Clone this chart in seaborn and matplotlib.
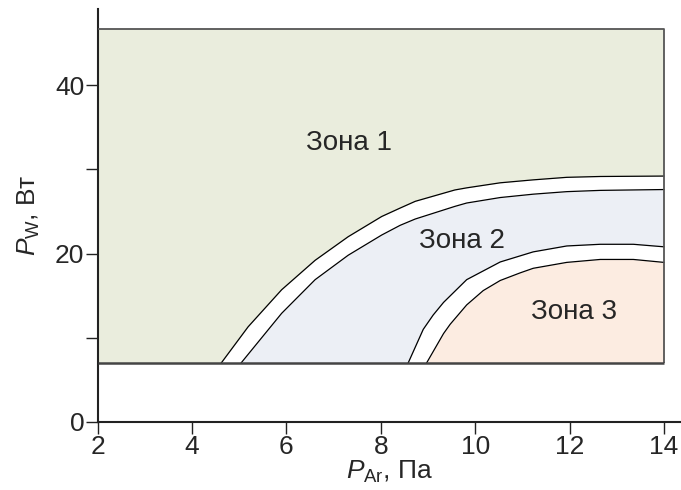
import matplotlib
matplotlib.use("Agg")
import matplotlib.pyplot as plt
import seaborn as sns

# Boundary curves of the operating zones (x: Ar pressure, Pa; y: W power, W)
zone1_edge_x = [4.62, 5.19, 5.90, 6.61, 7.31, 8.02, 8.41, 8.73, 9.57, 9.82,
                10.53, 11.23, 11.94, 12.65, 14.0]
zone1_edge_y = [7.0, 11.3, 15.7, 19.2, 22.0, 24.4, 25.4, 26.2, 27.55, 27.8,
                28.4, 28.75, 29.05, 29.15, 29.2]

zone2_top_x = [5.04, 5.55, 5.90, 6.61, 7.31, 8.02, 8.41, 8.73, 9.57, 9.82,
               10.53, 11.23, 11.94, 12.65, 14.0]
zone2_top_y = [7.0, 10.5, 12.9, 16.9, 19.8, 22.2, 23.35, 24.1, 25.6, 26.0,
               26.65, 27.05, 27.35, 27.5, 27.6]

zone2_bottom_x = [8.58, 8.90, 9.11, 9.33, 9.82, 10.53, 11.23, 11.94, 12.65, 13.35, 14.0]
zone2_bottom_y = [7.0, 11.0, 12.7, 14.2, 16.9, 19.0, 20.2, 20.9, 21.1, 21.1, 20.8]

zone3_top_x = [8.97, 9.33, 9.47, 9.82, 10.17, 10.53, 10.95, 11.23, 11.94, 12.65, 13.35, 14.0]
zone3_top_y = [7.0, 10.5, 11.6, 13.9, 15.6, 16.8, 17.7, 18.25, 18.95, 19.3, 19.3, 18.95]

# Outer frame of the studied region
region_x = [2.0, 14.0]
region_y = [7.0, 46.7]

zone_names = ["Зона 1", "Зона 2", "Зона 3"]
zone_label_x = [7.33, 9.72, 12.10]
zone_label_y = [33.1, 21.5, 13.1]

x_ticks = [2, 4, 6, 8, 10, 12, 14]
y_ticks = [0, 10, 20, 30, 40]
y_tick_labels = ["0", "", "20", "", "40"]

zone_colors = ["#eaeddd", "#eceff5", "#fcece1"]

sns.set_style("ticks")
plt.rcParams["font.family"] = ["Liberation Sans", "DejaVu Sans"]
plt.rcParams["mathtext.fontset"] = "custom"
plt.rcParams["mathtext.rm"] = "Liberation Sans"
plt.rcParams["mathtext.it"] = "Liberation Sans:italic"

fig = plt.figure(figsize=(6.81, 4.90), dpi=100)
ax = fig.add_axes([0.1432, 0.1388, 0.8568, 0.8422])

# Zone 1 background
ax.fill_between(region_x, region_y[0], region_y[1], color=zone_colors[0], lw=0, zorder=1)
# White band, then zone 2, white band, zone 3
ax.fill_between(zone1_edge_x, region_y[0], zone1_edge_y, color="white", lw=0, zorder=2)
ax.fill_between(zone2_top_x, region_y[0], zone2_top_y, color=zone_colors[1], lw=0, zorder=3)
ax.fill_between(zone2_bottom_x, region_y[0], zone2_bottom_y, color="white", lw=0, zorder=4)
ax.fill_between(zone3_top_x, region_y[0], zone3_top_y, color=zone_colors[2], lw=0, zorder=5)

curves = [
    (zone1_edge_x, zone1_edge_y),
    (zone2_top_x, zone2_top_y),
    (zone2_bottom_x, zone2_bottom_y),
    (zone3_top_x, zone3_top_y),
]
for cx, cy in curves:
    sns.lineplot(x=cx, y=cy, ax=ax, color="black", linewidth=0.9,
                 estimator=None, sort=False, zorder=6)

# Frame of the region
ax.plot([region_x[0], region_x[1], region_x[1]],
        [region_y[1], region_y[1], region_y[0]],
        color="#555555", linewidth=1.3, zorder=7, solid_capstyle="butt")
ax.plot(region_x, [region_y[0], region_y[0]], color="#444444",
        linewidth=1.8, zorder=7, solid_capstyle="butt")

for name, lx, ly in zip(zone_names, zone_label_x, zone_label_y):
    ax.text(lx, ly, name, ha="center", va="center", fontsize=20, zorder=8)

ax.set_xlim(2, 14.36)
ax.set_ylim(0, 49.0)
ax.set_xticks(x_ticks)
ax.set_yticks(y_ticks)
ax.set_yticklabels(y_tick_labels)
ax.tick_params(axis="both", labelsize=19, length=8.5, width=1.0,
               color="#222222", direction="out", pad=1)
for side in ["top", "right"]:
    ax.spines[side].set_visible(False)
for side in ["left", "bottom"]:
    ax.spines[side].set_linewidth(1.5)
    ax.spines[side].set_color("#222222")

ax.set_xlabel(r"$P_{\mathrm{Ar}}$, Па", fontsize=19, labelpad=0)
ax.set_ylabel(r"$P_{\mathrm{W}}$, Вт", fontsize=19, labelpad=9)

fig.savefig("out.png", dpi=100)
